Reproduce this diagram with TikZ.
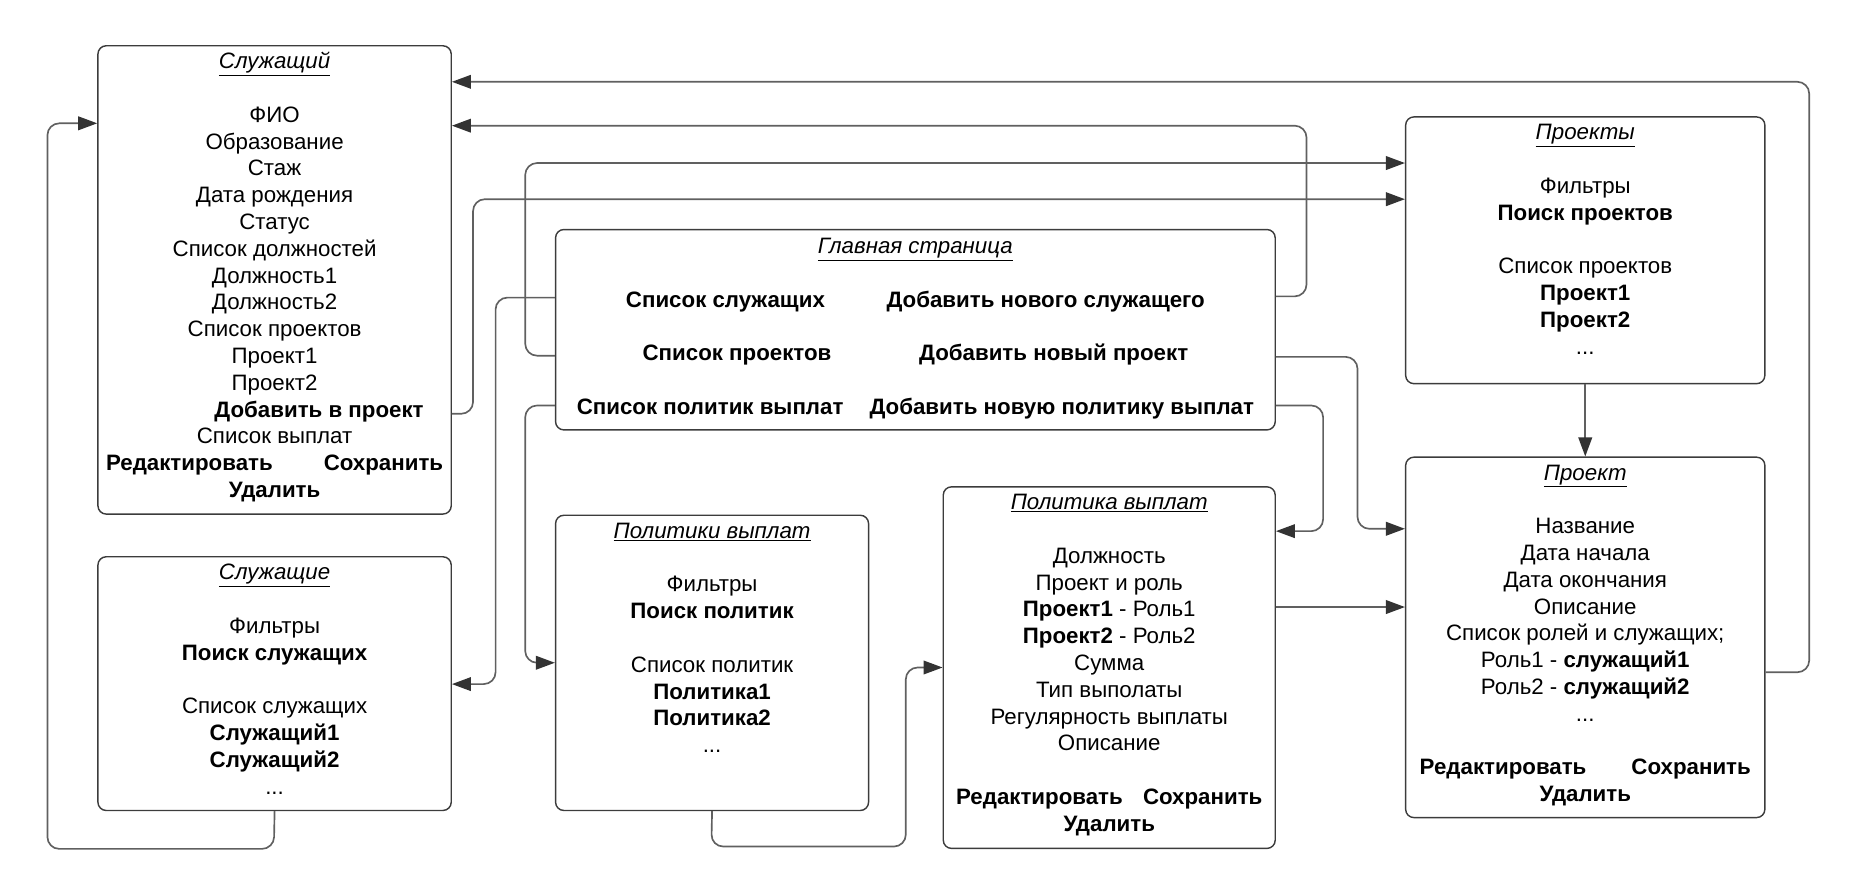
\documentclass[tikz,border=0pt]{standalone}
\usepackage{fontspec}
\setmainfont{Liberation Sans}
\usetikzlibrary{arrows.meta}
\definecolor{boxc}{HTML}{3C3C3C}
\definecolor{linec}{HTML}{606060}
\definecolor{arrowc}{HTML}{333333}
\newcommand{\ttl}[1]{\underline{\textit{#1}}}
\tikzset{
  box/.style={draw=boxc, line width=1.2pt, rounded corners=7pt, inner sep=0pt, anchor=north west},
  txt/.style={inner sep=0pt, anchor=base, font=\fontsize{18.8}{22.6}\selectfont},
  conn/.style={draw=linec, line width=1.4pt, rounded corners=10pt},
  arr/.style={conn, -{Triangle[length=16pt,width=11.5pt,color=arrowc]}},
}
\begin{document}
\begin{tikzpicture}[x=1pt,y=1pt]
\useasboundingbox (0,0) rectangle (1568,-750.7);
% boxes
\node[box, minimum width=298pt, minimum height=395pt] (s1) at (82,-38) {};
\node[box, minimum width=298pt, minimum height=214pt] (s2) at (82,-469) {};
\node[box, minimum width=607pt, minimum height=169pt] (g) at (468,-193) {};
\node[box, minimum width=264pt, minimum height=249pt] (pv) at (468,-434) {};
\node[box, minimum width=280pt, minimum height=305pt] (p1) at (795,-410) {};
\node[box, minimum width=303pt, minimum height=225pt] (pr) at (1185,-98) {};
\node[box, minimum width=303pt, minimum height=304pt] (pj) at (1185,-385) {};
% texts
\node[txt] (s1t) at ([yshift=-20pt]s1.north) {\begin{tabular}[t]{@{}c@{}}
\ttl{Служащий}\\ \\
ФИО\\ Образование\\ Стаж\\ Дата рождения\\ Статус\\ Список должностей\\
Должность1\\ Должность2\\ Список проектов\\ Проект1\\ Проект2\\
\hspace*{75pt}\textbf{Добавить в проект}\\
Список выплат\\
\textbf{Редактировать}\hspace{43pt}\textbf{Сохранить}\\
\textbf{Удалить}
\end{tabular}};
\node[txt] (s2t) at ([yshift=-20pt]s2.north) {\begin{tabular}[t]{@{}c@{}}
\ttl{Служащие}\\ \\
Фильтры\\ \textbf{Поиск служащих}\\ \\
Список служащих\\ \textbf{Служащий1}\\ \textbf{Служащий2}\\ ...
\end{tabular}};
\node[txt] (gt) at ([yshift=-21pt]g.north) {\begin{tabular}[t]{@{}c@{}}
\ttl{Главная страница}\\ \\
\textbf{Список служащих}\hspace{52pt}\textbf{Добавить нового служащего}\\ \\
\textbf{Список проектов}\hspace{74pt}\textbf{Добавить новый проект}\\ \\
\textbf{Список политик выплат}\hspace{22pt}\textbf{Добавить новую политику выплат}
\end{tabular}};
\node[txt] (pvt) at ([yshift=-20pt]pv.north) {\begin{tabular}[t]{@{}c@{}}
\ttl{Политики выплат}\\ \\
Фильтры\\ \textbf{Поиск политик}\\ \\
Список политик\\ \textbf{Политика1}\\ \textbf{Политика2}\\ ...
\end{tabular}};
\node[txt] (p1t) at ([yshift=-20pt]p1.north) {\begin{tabular}[t]{@{}c@{}}
\ttl{Политика выплат}\\ \\
Должность\\ Проект и роль\\ \textbf{Проект1} - Роль1\\ \textbf{Проект2} - Роль2\\
Сумма\\ Тип выполаты\\ Регулярность выплаты\\ Описание\\ \\
\textbf{Редактировать}\hspace{17pt}\textbf{Сохранить}\\
\textbf{Удалить}
\end{tabular}};
\node[txt] (prt) at ([yshift=-20pt]pr.north) {\begin{tabular}[t]{@{}c@{}}
\ttl{Проекты}\\ \\
Фильтры\\ \textbf{Поиск проектов}\\ \\
Список проектов\\ \textbf{Проект1}\\ \textbf{Проект2}\\ ...
\end{tabular}};
\node[txt] (pjt) at ([yshift=-20pt]pj.north) {\begin{tabular}[t]{@{}c@{}}
\ttl{Проект}\\ \\
Название\\ Дата начала\\ Дата окончания\\ Описание\\ Список ролей и служащих;\\
Роль1 - \textbf{служащий1}\\ Роль2 - \textbf{служащий2}\\ ...\\ \\
\textbf{Редактировать}\hspace{38pt}\textbf{Сохранить}\\
\textbf{Удалить}
\end{tabular}};
% connectors
\draw[arr] (s2.south) -- (231,-716) -- (40,-716) -- (40,-104) -- (s1.west |- 0,-104);
\draw[arr] (pj.east |- 0,-567) -- (1526,-567) -- (1526,-69) -- (s1.east |- 0,-69);
\draw[arr] (g.east |- 0,-250) -- (1102,-250) -- (1102,-106) -- (s1.east |- 0,-106);
\draw[arr] (g.west |- 0,-300) -- (443,-300) -- (443,-137.5) -- (pr.west |- 0,-137.5);
\draw[arr] (s1.east |- 0,-349) -- (399,-349) -- (399,-168) -- (pr.west |- 0,-168);
\draw[arr] (g.west |- 0,-251) -- (418,-251) -- (418,-577) -- (s2.east |- 0,-577);
\draw[arr] (g.west |- 0,-342) -- (443,-342) -- (443,-559) -- (pv.west |- 0,-559);
\draw[arr] (g.east |- 0,-301) -- (1145,-301) -- (1145,-446) -- (pj.west |- 0,-446);
\draw[arr] (g.east |- 0,-342) -- (1116,-342) -- (1116,-448) -- (p1.east |- 0,-448);
\draw[arr] (pr.south) -- (pj.north);
\draw[arr] (p1.east |- 0,-512) -- (pj.west |- 0,-512);
\draw[arr] (pv.south) -- (600,-714) -- (764,-714) -- (764,-563) -- (p1.west |- 0,-563);
\end{tikzpicture}
\end{document}
